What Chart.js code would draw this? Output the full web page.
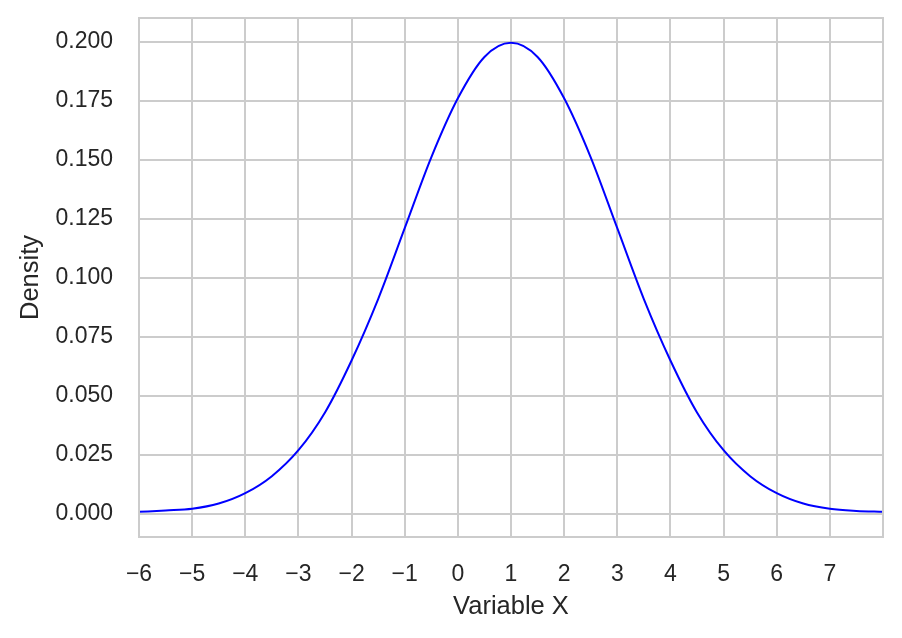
<!DOCTYPE html>
<html>
<head>
<meta charset="utf-8">
<script src="https://cdn.jsdelivr.net/npm/chart.js@4"></script>
<style>
  html, body { margin: 0; padding: 0; background: #ffffff; }
  #wrap { width: 902px; height: 638px; }
</style>
</head>
<body>
<div id="wrap"><canvas id="density-chart"></canvas></div>
<script>
// values
const xValues = [-6, -5.5, -5, -4.5, -4, -3.5, -3, -2.5, -2, -1.5, -1, -0.5, 0, 0.5, 1,
                 1.5, 2, 2.5, 3, 3.5, 4, 4.5, 5, 5.5, 6, 6.5, 7, 7.5, 8];
const densityValues = [0.0009, 0.0015, 0.0022, 0.0044, 0.0088, 0.0160, 0.0270, 0.0430, 0.0650,
                       0.0910, 0.1210, 0.1510, 0.1760, 0.1935, 0.1995, 0.1935, 0.1760, 0.1510,
                       0.1210, 0.0910, 0.0650, 0.0430, 0.0270, 0.0160, 0.0088, 0.0044, 0.0022,
                       0.0013, 0.0009];
const xTicks = [-6, -5, -4, -3, -2, -1, 0, 1, 2, 3, 4, 5, 6, 7, 8];
const yTicks = [0, 0.025, 0.05, 0.075, 0.1, 0.125, 0.15, 0.175, 0.2];

const FONT = '"Liberation Sans", Arial, sans-serif';
const TEXT = '#262626';
const GRID = '#cccccc';

const points = xValues.map((x, i) => ({ x: x, y: densityValues[i] }));

// top/right spines
const frame = {
    id: 'frame',
    afterDatasetsDraw(chart) {
        const a = chart.chartArea;
        const ctx = chart.ctx;
        ctx.save();
        ctx.strokeStyle = GRID;
        ctx.lineWidth = 2;
        ctx.strokeRect(a.left, a.top, a.right - a.left, a.bottom - a.top);
        ctx.restore();
    }
};

new Chart(document.getElementById('density-chart').getContext('2d'), {
    type: 'line',
    data: {
        datasets: [{
            data: points,
            borderColor: '#0000ff',
            borderWidth: 2,
            pointRadius: 0,
            fill: false,
            cubicInterpolationMode: 'monotone'
        }]
    },
    options: {
        responsive: true,
        maintainAspectRatio: false,
        animation: false,
        layout: { padding: { top: 18, right: 19, left: 0, bottom: 0 } },
        scales: {
            x: {
                type: 'linear',
                min: -6,
                max: 8,
                afterBuildTicks: s => { s.ticks = xTicks.map(v => ({ value: v })); },
                afterFit: s => {
                    s.height = 101;
                    s.paddingLeft = 0;
                    s.paddingRight = 0;
                },
                grid: { color: GRID, lineWidth: 2, drawTicks: false },
                border: { color: GRID, width: 2 },
                ticks: {
                    padding: 24,
                    color: TEXT,
                    font: { family: FONT, size: 23 },
                    maxRotation: 0,
                    autoSkip: false,
                    callback: v => v === 8 ? '' : (v < 0 ? '\u2212' + Math.abs(v) : String(v))
                },
                title: {
                    display: true,
                    text: 'Variable X',
                    color: TEXT,
                    font: { family: FONT, size: 25.5 },
                    padding: { top: 0, bottom: 16 }
                }
            },
            y: {
                min: -0.00975,
                max: 0.2100,
                afterBuildTicks: s => { s.ticks = yTicks.map(v => ({ value: v })); },
                afterFit: s => {
                    s.width = 139;
                    s.paddingTop = 0;
                    s.paddingBottom = 0;
                },
                grid: { color: GRID, lineWidth: 2, drawTicks: false },
                border: { color: GRID, width: 2 },
                ticks: {
                    padding: 26,
                    color: TEXT,
                    font: { family: FONT, size: 23 },
                    callback: v => v.toFixed(3)
                },
                title: {
                    display: true,
                    text: 'Density',
                    color: TEXT,
                    font: { family: FONT, size: 25.5 },
                    padding: { top: 16, bottom: 0 }
                }
            }
        },
        plugins: {
            legend: { display: false },
            tooltip: { enabled: false }
        }
    },
    plugins: [frame]
});
</script>
</body>
</html>
